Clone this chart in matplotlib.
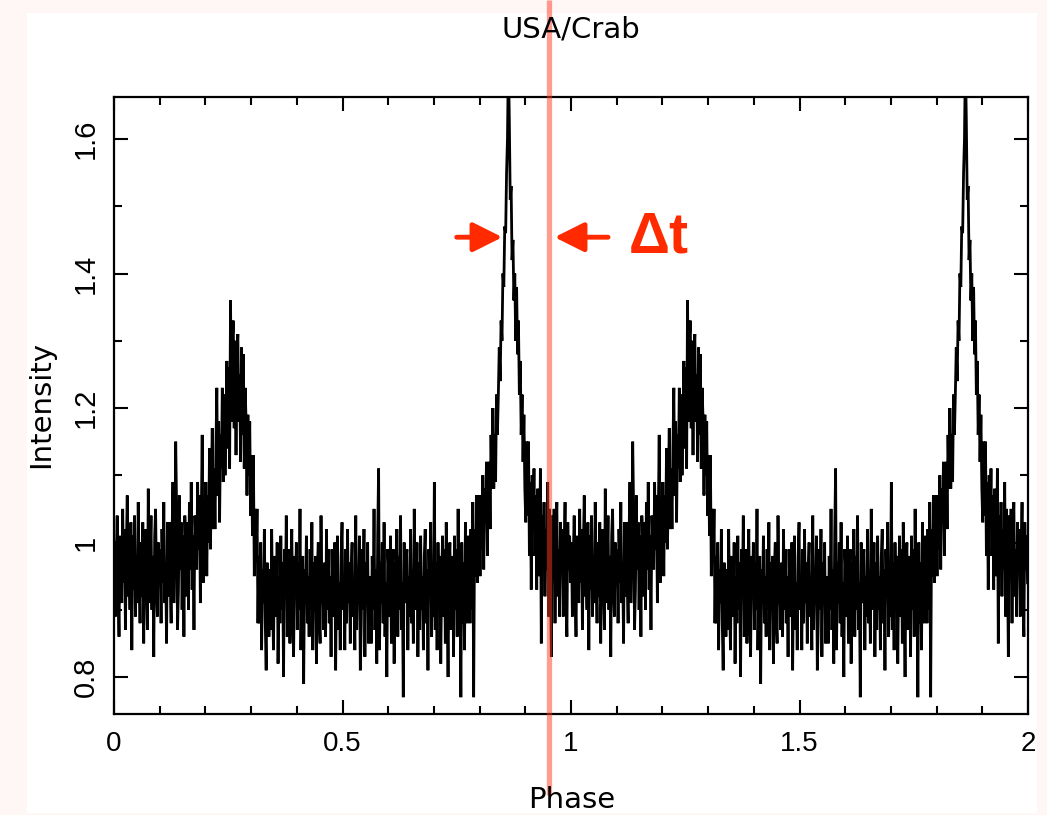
import numpy as np
import matplotlib
matplotlib.use("Agg")
import matplotlib.pyplot as plt
from matplotlib.patches import Rectangle
from matplotlib.ticker import MultipleLocator

# One folded pulse cycle of the Crab (500 phase bins);
# the chart shows the same cycle twice (phase 0-2).
profile = [
    1.00, 0.89, 0.98, 1.04, 0.93, 0.86, 1.01, 0.96, 0.91, 1.05,
    0.94, 1.02, 0.87, 0.99, 1.07, 0.92, 0.97, 0.90, 1.03, 0.84,
    1.01, 0.93, 1.04, 0.89, 0.98, 0.91, 1.06, 0.95, 0.88, 1.00,
    0.92, 1.03, 0.85, 0.99, 1.02, 0.94, 0.87, 1.08, 0.91, 0.97,
    1.04, 0.90, 0.98, 0.83, 1.01, 1.05, 0.93, 0.89, 1.00, 0.95,
    0.99, 0.88, 1.02, 0.94, 1.06, 0.91, 0.97, 0.85, 1.03, 0.92,
    1.03, 0.94, 0.88, 1.01, 1.09, 0.91, 0.99, 1.15, 1.05, 0.87,
    0.93, 1.07, 0.96, 1.03, 0.90, 1.01, 0.86, 1.04, 0.99, 0.92,
    1.03, 0.90, 1.06, 0.96, 1.09, 0.93, 1.01, 0.87, 1.04, 1.00,
    0.96, 1.09, 0.99, 1.07, 0.91, 1.04, 1.16, 0.94, 1.05, 0.98,
    1.09, 0.95, 1.07, 1.00, 1.14, 0.99, 1.08, 1.17, 1.02, 1.11,
    1.02, 1.14, 1.23, 1.07, 1.18, 1.03, 1.16, 1.11, 1.23, 1.09,
    1.22, 1.10, 1.19, 1.27, 1.14, 1.26, 1.11, 1.36, 1.18, 1.30,
    1.33, 1.17, 1.30, 1.13, 1.28, 1.31, 1.18, 1.25, 1.12, 1.29,
    1.16, 1.28, 1.11, 1.23, 1.18, 1.07, 1.19, 1.10, 1.18, 1.04,
    1.13, 1.01, 1.13, 0.95, 1.05, 0.97, 1.05, 0.88, 0.98, 0.88,
    1.00, 0.84, 0.96, 0.91, 1.02, 0.88, 0.81, 0.97, 0.94, 0.86,
    0.96, 0.87, 1.02, 0.91, 0.84, 0.98, 0.93, 0.89, 1.00, 0.82,
    0.95, 0.88, 1.01, 0.90, 0.97, 0.80, 0.99, 0.92, 1.04, 0.86,
    0.91, 0.99, 0.85, 0.96, 1.02, 0.89, 0.83, 0.98, 0.92, 1.00,
    0.87, 0.97, 0.90, 1.05, 0.84, 0.94, 0.98, 0.79, 0.96, 0.91,
    1.01, 0.88, 0.95, 0.86, 0.99, 0.90, 1.03, 0.84, 0.97, 0.92,
    0.98, 0.82, 0.96, 1.00, 0.89, 0.85, 1.04, 0.91, 0.94, 0.87,
    0.97, 0.86, 1.02, 0.90, 0.99, 0.88, 0.95, 0.83, 0.99, 0.92,
    0.89, 1.00, 0.81, 0.96, 1.01, 0.87, 0.94, 0.84, 0.98, 1.03,
    0.90, 0.95, 0.84, 0.99, 0.88, 1.02, 0.91, 0.97, 0.85, 0.96,
    1.00, 0.89, 0.94, 0.84, 1.04, 0.87, 0.96, 0.91, 1.01, 0.81,
    0.88, 0.99, 0.90, 1.02, 0.83, 0.97, 0.92, 1.00, 0.85, 0.95,
    0.94, 0.85, 0.98, 0.90, 1.05, 0.87, 0.96, 0.82, 1.01, 1.11,
    0.84, 0.97, 0.91, 1.00, 0.88, 1.03, 0.86, 0.94, 0.80, 0.99,
    0.96, 0.89, 1.01, 0.85, 0.95, 0.99, 0.82, 0.97, 0.92, 1.02,
    0.86, 0.98, 0.90, 1.04, 0.87, 0.94, 0.77, 1.00, 0.91, 0.97,
    0.99, 0.84, 0.95, 0.89, 1.02, 0.88, 0.96, 0.85, 1.05, 0.90,
    0.91, 1.00, 0.83, 0.97, 0.87, 1.01, 0.90, 0.95, 0.84, 0.98,
    1.02, 0.88, 0.96, 0.81, 0.99, 0.92, 1.03, 0.86, 0.94, 0.89,
    1.09, 0.87, 0.97, 0.84, 1.00, 0.90, 0.98, 0.82, 0.95, 1.01,
    0.89, 0.99, 0.85, 1.03, 0.91, 0.80, 0.97, 1.00, 0.87, 0.94,
    0.98, 0.83, 1.01, 0.90, 0.99, 0.86, 1.05, 0.88, 0.95, 0.77,
    1.00, 0.88, 0.97, 0.84, 1.03, 0.93, 0.88, 1.01, 0.98, 0.88,
    1.02, 0.90, 1.06, 0.77, 1.02, 0.95, 1.07, 0.94, 1.01, 1.07,
    0.95, 1.07, 0.99, 1.10, 0.96, 1.08, 1.03, 1.12, 0.98, 1.10,
    1.12, 1.02, 1.16, 1.08, 1.20, 1.08, 1.16, 1.09, 1.22, 1.16,
    1.22, 1.29, 1.24, 1.33, 1.30, 1.40, 1.38, 1.47, 1.46, 1.55,
    1.60, 1.72, 1.63, 1.51, 1.53, 1.42, 1.45, 1.36, 1.40, 1.30,
    1.38, 1.28, 1.33, 1.22, 1.27, 1.16, 1.22, 1.12, 1.19, 1.08,
    1.03, 1.15, 1.04, 1.15, 0.98, 1.09, 0.93, 1.10, 1.02, 1.11,
    0.98, 1.07, 0.93, 1.08, 1.03, 0.95, 1.11, 0.85, 1.04, 0.97,
    1.06, 0.92, 1.02, 0.96, 1.09, 0.89, 1.05, 0.98, 0.83, 1.04,
    0.95, 1.05, 0.88, 1.01, 1.06, 0.92, 0.99, 0.89, 1.03, 0.96,
    1.02, 0.89, 0.99, 1.06, 0.92, 0.86, 1.03, 0.96, 1.01, 0.94,
]
n_cycles = 2

x_ticks = [0, 0.5, 1, 1.5, 2]
x_tick_labels = ["0", "0.5", "1", "1.5", "2"]
y_ticks = [0.8, 1.0, 1.2, 1.4, 1.6]
y_tick_labels = ["0.8", "1", "1.2", "1.4", "1.6"]

title = "USA/Crab"
x_label = "Phase"
y_label = "Intensity"

ref_phase = 0.952          # red reference line
arrow_level = 1.454        # height of the delta-t arrows
pulse_edge = 0.856         # where the left arrow points
left_arrow_start = 0.750
right_arrow_start = 1.081
dt_label = "\u0394t"

nbins = len(profile)
phase = (np.arange(nbins * n_cycles) + 0.5) / nbins
intensity = np.tile(np.array(profile), n_cycles)

W, H = 1047, 815
fig = plt.figure(figsize=(W / 100, H / 100), dpi=100)
fig.patch.set_facecolor("#fff6f6")
fig.patches.append(Rectangle((27 / W, 1 - 813 / H), 1010 / W, 800 / H,
                             transform=fig.transFigure, facecolor="white",
                             edgecolor="none", zorder=-10))

ax = fig.add_axes([114 / W, 1 - 714 / H, (1028 - 114) / W, (714 - 97) / H])
ax.set_facecolor("white")
ax.plot(phase, intensity, color="black", lw=2.0, solid_joinstyle="miter")

ax.set_xlim(0, 2)
ax.set_ylim(0.745, 1.6625)
ax.set_xticks(x_ticks)
ax.set_xticklabels(x_tick_labels, fontsize=20, family="Liberation Sans")
ax.set_yticks(y_ticks)
ax.set_yticklabels(y_tick_labels, fontsize=21, family="Liberation Sans",
                   rotation=90, va="center")
ax.xaxis.set_minor_locator(MultipleLocator(0.1))
ax.yaxis.set_minor_locator(MultipleLocator(0.1))
ax.tick_params(which="both", direction="in", top=True, right=True,
               width=1.5, color="black")
ax.tick_params(which="major", length=10)
ax.tick_params(which="minor", length=6)
ax.tick_params(axis="x", which="major", pad=12)
ax.tick_params(axis="y", which="major", pad=10)
for s in ax.spines.values():
    s.set_linewidth(1.6)

# red reference line spanning beyond the axes
ax.plot([ref_phase, ref_phase], [-0.131, 1.157], transform=ax.get_xaxis_transform(),
        color="#ff3a22", alpha=0.5, lw=3.8, clip_on=False, zorder=5,
        solid_capstyle="butt")

red = "#ff2a00"
arrow_props = dict(arrowstyle="-|>,head_length=0.9,head_width=0.45", color=red,
                   lw=3.5, shrinkA=0, shrinkB=2, mutation_scale=20)
ax.annotate("", xy=(pulse_edge, arrow_level), xytext=(left_arrow_start, arrow_level),
            arrowprops=arrow_props, zorder=6)
ax.annotate("", xy=(ref_phase + 0.006, arrow_level),
            xytext=(right_arrow_start, arrow_level),
            arrowprops=arrow_props, zorder=6)
ax.text(1.126, arrow_level, dt_label, color=red, fontsize=41, fontweight="bold",
        family="Liberation Sans", va="center", ha="left")

fig.text(571 / W, 1 - 30 / H, title, fontsize=21, ha="center", va="center")
fig.text(572 / W, 1 - 800 / H, x_label, fontsize=21, ha="center", va="center")
fig.text(41 / W, 1 - 404 / H, y_label, fontsize=21, ha="center", va="center",
         rotation=90)

fig.savefig("out.png", dpi=100, facecolor=fig.get_facecolor())
